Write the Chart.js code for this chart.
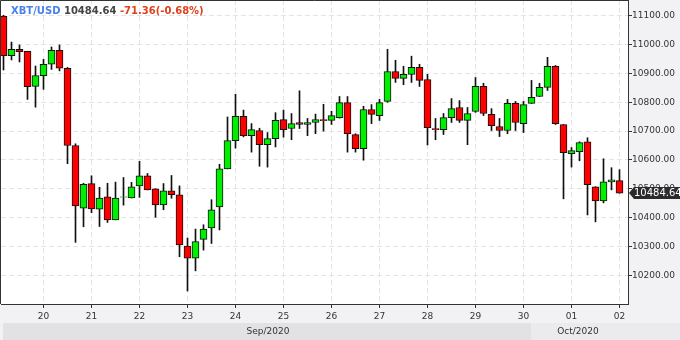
<!DOCTYPE html>
<html>
<head>
<meta charset="utf-8">
<script src="https://cdn.jsdelivr.net/npm/chart.js@4.4.0/dist/chart.umd.min.js"></script>
<style>
  html, body { margin: 0; padding: 0; background: #f2f2f4; }
  #wrap { position: relative; width: 680px; height: 340px; }
  #title { position: absolute; left: 11px; top: 5px; font: bold 10px "DejaVu Sans", sans-serif; white-space: pre; }
  #title .sym { color: #4a80f0; }
  #title .last { color: #444444; }
  #title .chg { color: #e2401c; }
</style>
</head>
<body>
<div id="wrap">
  <canvas id="candleChart" width="680" height="340"></canvas>
  <div id="title"><span class="sym">XBT/USD</span> <span class="last">10484.64</span> <span class="chg">-71.36(-0.68%)</span></div>
</div>
<script>
// 4h candles, Sep 19 04:00 -> Oct 02 00:00
var openData = [11098, 10962, 10984, 10977, 10855, 10892, 10932, 10980, 10918, 10650,
  10433, 10518, 10429, 10472, 10392, 10471, 10468, 10510, 10545, 10500,
  10444, 10493, 10479, 10301, 10259, 10324, 10364, 10437, 10569, 10667,
  10751, 10684, 10702, 10653, 10674, 10740, 10709, 10730, 10723, 10730,
  10740, 10737, 10747, 10799, 10688, 10639, 10775, 10754, 10803, 10907,
  10883, 10897, 10921, 10879, 10709, 10705, 10747, 10782, 10737, 10768,
  10855, 10758, 10716, 10702, 10796, 10726, 10796, 10820, 10852, 10925,
  10723, 10622, 10629, 10663, 10507, 10458, 10524, 10528];
var highData = [11102, 11009, 10999, 10977, 10926, 10949, 10992, 10999, 10921, 10656,
  10519, 10545, 10505, 10519, 10523, 10539, 10522, 10595, 10553, 10500,
  10518, 10546, 10510, 10329, 10360, 10375, 10462, 10585, 10749, 10828,
  10773, 10726, 10710, 10695, 10764, 10773, 10761, 10840, 10744, 10759,
  10793, 10769, 10820, 10820, 10691, 10786, 10792, 10810, 10984, 10946,
  10925, 10960, 10932, 10897, 10744, 10761, 10813, 10806, 10782, 10886,
  10866, 10778, 10744, 10810, 10803, 10803, 10876, 10866, 10956, 10928,
  10723, 10643, 10663, 10677, 10507, 10604, 10573, 10566];
var lowData = [10912, 10947, 10940, 10810, 10783, 10845, 10914, 10909, 10587, 10314,
  10368, 10417, 10369, 10383, 10392, 10443, 10468, 10470, 10496, 10401,
  10427, 10467, 10264, 10145, 10215, 10287, 10310, 10357, 10569, 10641,
  10680, 10627, 10578, 10575, 10645, 10679, 10670, 10709, 10684, 10691,
  10700, 10723, 10745, 10627, 10627, 10599, 10726, 10737, 10800, 10869,
  10861, 10869, 10855, 10652, 10670, 10688, 10730, 10730, 10653, 10765,
  10754, 10702, 10681, 10691, 10702, 10695, 10796, 10820, 10841, 10723,
  10465, 10575, 10597, 10409, 10385, 10451, 10496, 10484.64];
var closeData = [10962, 10984, 10976, 10854, 10893, 10932, 10980, 10918, 10650, 10440,
  10515, 10430, 10468, 10392, 10468, 10472, 10507, 10545, 10496, 10444,
  10493, 10479, 10305, 10259, 10317, 10360, 10427, 10569, 10667, 10751,
  10684, 10705, 10653, 10674, 10737, 10705, 10726, 10723, 10730, 10740,
  10736, 10754, 10799, 10691, 10639, 10775, 10758, 10799, 10907, 10883,
  10897, 10921, 10876, 10712, 10705, 10747, 10778, 10737, 10761, 10855,
  10761, 10719, 10702, 10796, 10730, 10792, 10817, 10852, 10925, 10726,
  10625, 10632, 10660, 10514, 10458, 10524, 10531, 10484.64];

// day ticks (candle index of 00:00) and their labels
var dayTickIndex = [5, 11, 17, 23, 29, 35, 41, 47, 53, 59, 65, 71, 77];
var dayTickLabels = ['20', '21', '22', '23', '24', '25', '26', '27', '28', '29', '30', '01', '02'];
var yTickValues = [10200, 10300, 10400, 10500, 10600, 10700, 10800, 10900, 11000, 11100];
var monthLabels = ['Sep/2020', 'Oct/2020'];
var lastPrice = 10484.64;

var upColor = '#00ee00';
var downColor = '#ff0000';

var bodies = openData.map((o, i) => ({ x: i, y: [o, closeData[i]] }));
var wicks = lowData.map((l, i) => ({ x: i, y: [l, highData[i]] }));
var bodyColors = openData.map((o, i) => closeData[i] >= o ? upColor : downColor);

var framePlugin = {
    id: 'frame',
    beforeDraw: function (chart) {
        var c = chart.ctx, a = chart.chartArea;
        c.save();
        c.fillStyle = '#f2f2f4';
        c.fillRect(0, 0, chart.width, chart.height);
        c.fillStyle = '#ffffff';
        c.fillRect(a.left, a.top, a.right - a.left, a.bottom - a.top);
        // month band
        c.fillStyle = '#e2e2e4';
        c.fillRect(3, 323, 528, 17);
        c.fillStyle = '#ebebed';
        c.fillRect(531, 323, 149, 17);
        c.fillStyle = '#333333';
        c.font = '9px "DejaVu Sans"';
        c.textAlign = 'center';
        c.textBaseline = 'middle';
        c.fillText(monthLabels[0], 268, 332);
        c.fillText(monthLabels[1], 578, 332);
        c.restore();
    },
    afterDraw: function (chart) {
        var c = chart.ctx, a = chart.chartArea;
        c.save();
        c.strokeStyle = '#333333';
        c.lineWidth = 1;
        c.beginPath();
        c.moveTo(a.left - 0.5, a.bottom);
        c.lineTo(a.left - 0.5, a.top + 0.5);
        c.lineTo(a.right, a.top + 0.5);
        c.stroke();
        // last price tag
        var y = Math.round(chart.scales.y.getPixelForValue(lastPrice));
        c.fillStyle = '#2b2b2b';
        c.beginPath();
        c.moveTo(a.right + 1, y);
        c.lineTo(a.right + 6, y - 6);
        c.lineTo(680, y - 6);
        c.lineTo(680, y + 6);
        c.lineTo(a.right + 6, y + 6);
        c.closePath();
        c.fill();
        c.fillStyle = '#ffffff';
        c.font = '10px "DejaVu Sans"';
        c.textAlign = 'left';
        c.textBaseline = 'middle';
        c.fillText(lastPrice.toFixed(2), a.right + 6, y + 0.5);
        c.restore();
    }
};

var ctx = document.getElementById('candleChart').getContext('2d');

var myChart = new Chart(ctx, {
    type: 'bar',
    data: {
        datasets: [
            {
                label: 'Wick',
                data: wicks,
                backgroundColor: '#111111',
                borderWidth: 0,
                barThickness: 1,
                order: 2
            },
            {
                label: 'Body',
                data: bodies,
                backgroundColor: bodyColors,
                borderColor: '#111111',
                borderWidth: 1,
                borderSkipped: false,
                barThickness: 7,
                order: 1
            }
        ]
    },
    options: {
        responsive: false,
        animation: false,
        grouped: false,
        layout: {
            padding: { left: 1, right: 0, top: 0, bottom: 16 }
        },
        plugins: {
            legend: { display: false },
            title: { display: false },
            tooltip: { enabled: false }
        },
        scales: {
            x: {
                type: 'linear',
                offset: false,
                min: -0.3125,
                max: 78.0625,
                afterFit: function (s) {
                    s.height = 20;
                    s.paddingLeft = 0;
                    s.paddingRight = 0;
                },
                afterBuildTicks: function (s) {
                    s.ticks = dayTickIndex.map(v => ({ value: v }));
                },
                ticks: {
                    padding: 3,
                    color: '#333333',
                    font: { family: 'DejaVu Sans', size: 9 },
                    maxRotation: 0,
                    autoSkip: false,
                    callback: function (value) {
                        var k = dayTickIndex.indexOf(value);
                        return k >= 0 ? dayTickLabels[k] : '';
                    }
                },
                grid: {
                    offset: false,
                    color: '#e4e4e4',
                    tickColor: '#333333',
                    tickLength: 4,
                    tickBorderDash: []
                },
                border: {
                    color: '#333333',
                    dash: [5, 3]
                }
            },
            y: {
                position: 'right',
                min: 10100,
                max: 11155,
                afterFit: function (s) {
                    s.width = 52;
                    s.paddingTop = 0;
                    s.paddingBottom = 0;
                },
                afterBuildTicks: function (s) {
                    s.ticks = yTickValues.map(v => ({ value: v }));
                },
                ticks: {
                    padding: 0,
                    color: '#333333',
                    font: { family: 'DejaVu Sans', size: 9 },
                    callback: function (value) { return value.toFixed(2); }
                },
                grid: {
                    color: '#e4e4e4',
                    tickColor: '#333333',
                    tickLength: 4,
                    tickBorderDash: []
                },
                border: {
                    color: '#333333',
                    dash: [5, 3]
                }
            }
        }
    },
    plugins: [framePlugin]
});
</script>
</body>
</html>
